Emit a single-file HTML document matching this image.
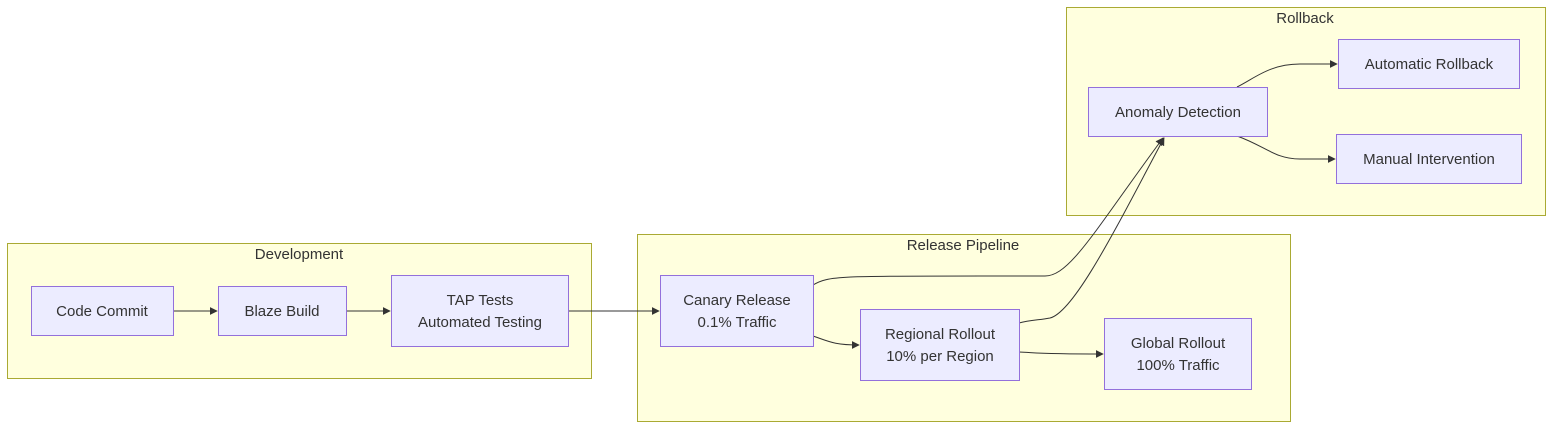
<!DOCTYPE html>
<html><head><meta charset="utf-8"><style>
html,body{margin:0;padding:0;background:#fff;}
svg{display:block;}
text{font-family:"Liberation Sans",sans-serif;font-size:15px;fill:#333;}
.c{fill:#ffffde;stroke:#aaaa33;stroke-width:1;}
.n{fill:#ECECFF;stroke:#9370DB;stroke-width:1;}
.e{fill:none;stroke:#333;stroke-width:1;}
</style></head><body>
<svg width="1568" height="434" viewBox="0 0 1568 434" xmlns="http://www.w3.org/2000/svg">
<defs><marker id="a" viewBox="0 0 10 10" refX="9" refY="5" markerWidth="8" markerHeight="8" orient="auto-start-reverse" markerUnits="userSpaceOnUse"><path d="M0,0 L10,5 L0,10 z" fill="#333"/></marker></defs>
<rect class="c" x="7.5" y="243.5" width="584" height="135"/>
<rect class="c" x="637.5" y="234.5" width="653" height="187"/>
<rect class="c" x="1066.5" y="7.5" width="479" height="208"/>
<text x="299" y="259" text-anchor="middle">Development</text>
<text x="963" y="250" text-anchor="middle">Release Pipeline</text>
<text x="1305" y="23" text-anchor="middle">Rollback</text>
<path class="e" marker-end="url(#a)" d="M173,311 L217,311"/>
<path class="e" marker-end="url(#a)" d="M346,311 L390,311"/>
<path class="e" marker-end="url(#a)" d="M568,311 L659,311"/>
<path class="e" marker-end="url(#a)" d="M813,336 C830,342 835,345 859,345"/>
<path class="e" marker-end="url(#a)" d="M1019,352 C1040,353 1040,354 1103,354"/>
<path class="e" marker-end="url(#a)" d="M813,285 C830,275 840,276 1045,276 C1070,276 1095,230 1163,138"/>
<path class="e" marker-end="url(#a)" d="M1019,323 C1030,320 1040,320 1050,318 C1075,312 1120,220 1164,138"/>
<path class="e" marker-end="url(#a)" d="M1237,87 C1255,78 1270,64 1300,64 L1337,64"/>
<path class="e" marker-end="url(#a)" d="M1237,136 C1265,146 1275,159 1300,159 L1335,159"/>
<rect class="n" x="31.5" y="286.5" width="142" height="49"/>
<text x="102" y="316" text-anchor="middle">Code Commit</text>
<rect class="n" x="218.5" y="286.5" width="128" height="49"/>
<text x="282" y="316" text-anchor="middle">Blaze Build</text>
<rect class="n" x="391.5" y="275.5" width="177" height="71"/>
<text x="480" y="305" text-anchor="middle">TAP Tests</text>
<text x="480" y="327" text-anchor="middle">Automated Testing</text>
<rect class="n" x="660.5" y="275.5" width="153" height="71"/>
<text x="737" y="305" text-anchor="middle">Canary Release</text>
<text x="737" y="327" text-anchor="middle">0.1% Traffic</text>
<rect class="n" x="860.5" y="309.5" width="159" height="71"/>
<text x="940" y="339" text-anchor="middle">Regional Rollout</text>
<text x="940" y="361" text-anchor="middle">10% per Region</text>
<rect class="n" x="1104.5" y="318.5" width="147" height="71"/>
<text x="1178" y="348" text-anchor="middle">Global Rollout</text>
<text x="1178" y="370" text-anchor="middle">100% Traffic</text>
<rect class="n" x="1088.5" y="87.5" width="179" height="49"/>
<text x="1178" y="117" text-anchor="middle">Anomaly Detection</text>
<rect class="n" x="1338.5" y="39.5" width="181" height="49"/>
<text x="1429" y="69" text-anchor="middle">Automatic Rollback</text>
<rect class="n" x="1336.5" y="134.5" width="185" height="49"/>
<text x="1429" y="164" text-anchor="middle">Manual Intervention</text>
</svg>
</body></html>
